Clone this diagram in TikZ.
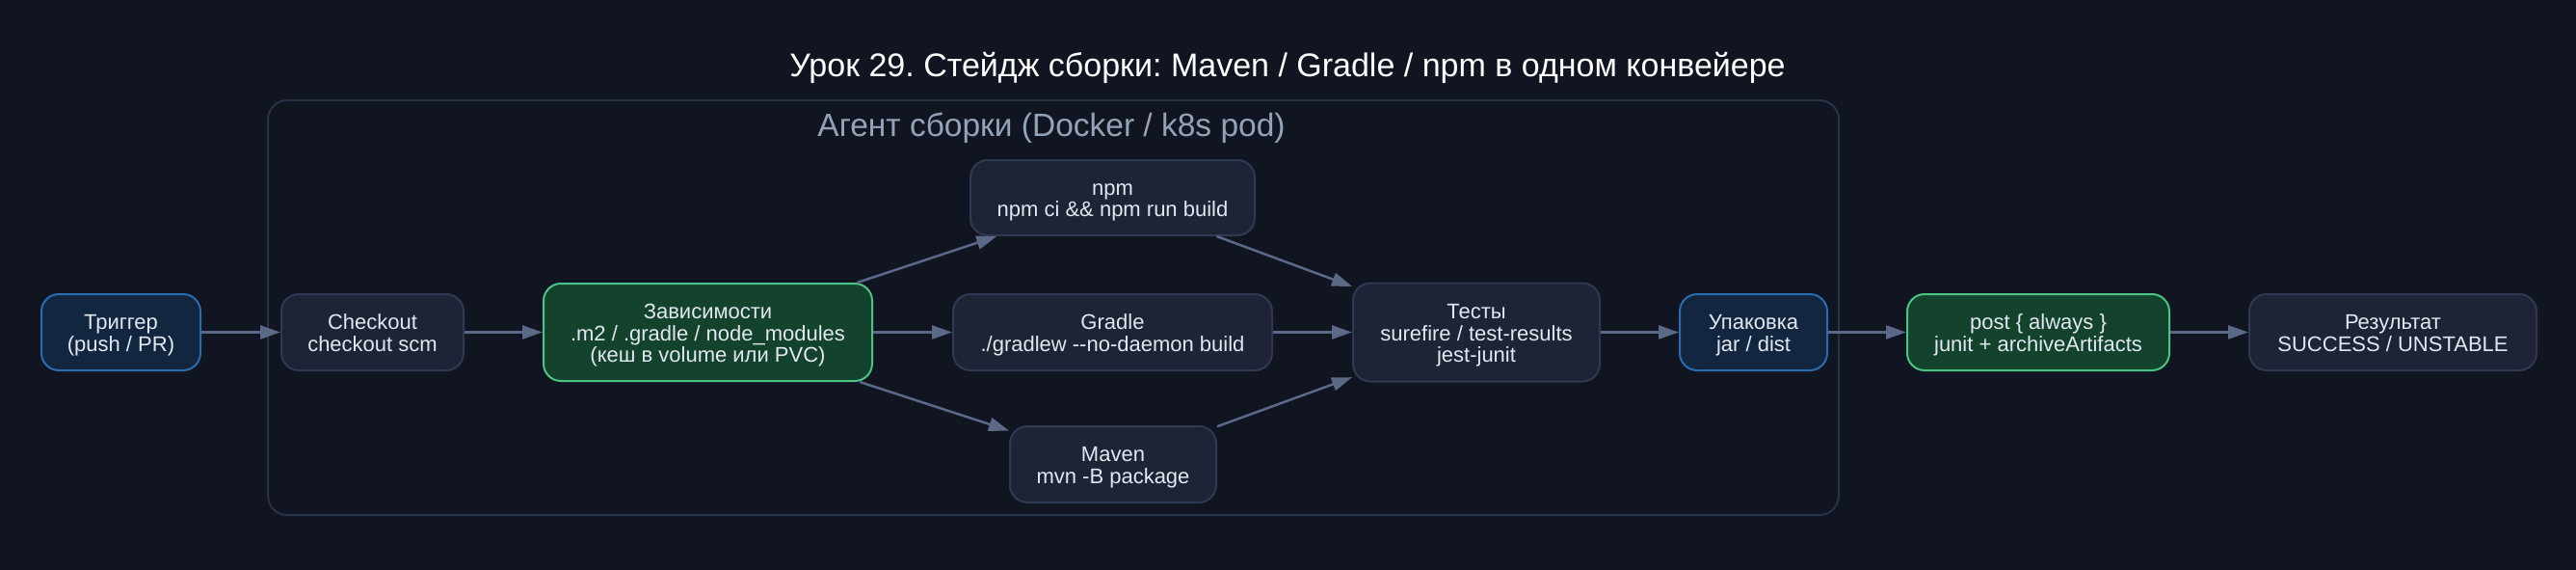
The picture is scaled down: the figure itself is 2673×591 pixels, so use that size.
\documentclass[tikz,border=0pt]{standalone}
\usepackage{fontspec}
\setmainfont{Liberation Sans}
\usetikzlibrary{arrows.meta}
\definecolor{bg}{HTML}{111521}
\definecolor{nfill}{HTML}{1E2336}
\definecolor{ndraw}{HTML}{2F3A52}
\definecolor{bfill}{HTML}{132640}
\definecolor{bdraw}{HTML}{2B6CB0}
\definecolor{gfill}{HTML}{14432D}
\definecolor{gdraw}{HTML}{4AC484}
\definecolor{edgec}{HTML}{5B6986}
\definecolor{clus}{HTML}{283248}
\definecolor{txt}{HTML}{E2E8F0}
\definecolor{clabel}{HTML}{94A3B8}
\newcommand\mlines[1]{\vbox{\lineskiplimit=-100pt\lineskip=0pt\baselineskip=22.5pt
  \halign{\hfil##\hfil\cr\rule{0pt}{22pt}#1\rule[-5pt]{0pt}{5pt}\cr}}}
\tikzset{
  box/.style={rounded corners=18pt, line width=2pt, draw=ndraw, fill=nfill,
    text=txt, inner sep=0pt,
    font=\fontsize{22}{22.5}\selectfont},
  bluebox/.style={box, draw=bdraw, fill=bfill},
  greenbox/.style={box, draw=gdraw, fill=gfill},
  conn/.style={draw=edgec, line width=2.5pt, -{Triangle[length=21pt,width=14pt]}}
}
\begin{document}
\frenchspacing
\begin{tikzpicture}[x=1pt,y=-1pt]
\fill[bg] (0,0) rectangle (2673,591);
\useasboundingbox (0,0) rectangle (2673,591);
\draw[clus, line width=2pt, rounded corners=20pt] (278,104) rectangle (1908,534);
\node[text=white, font=\fontsize{34}{38}\selectfont] (title) at (1336,70) {Урок 29. Стейдж сборки: Maven / Gradle / npm в одном конвейере};
\node[text=clabel, font=\fontsize{33.5}{37}\selectfont] (clab) at (1091,133) {Агент сборки (Docker / k8s pod)};

\node[bluebox, minimum width=165pt, minimum height=79pt] (trig) at (125.5,344.5) {\mlines{Триггер\cr(push / PR)}};
\node[box, minimum width=189pt, minimum height=79pt] (chk) at (386.5,344.5) {\mlines{Checkout\cr checkout scm}};
\node[greenbox, minimum width=341pt, minimum height=101pt] (deps) at (734.5,344.5) {\mlines{Зависимости\cr.m2 / .gradle / node\_modules\cr(кеш в volume или PVC)}};
\node[box, minimum width=295pt, minimum height=78pt] (npm) at (1154.5,205) {\mlines{npm\cr npm ci \&\& npm run build}};
\node[box, minimum width=331pt, minimum height=79pt] (gradle) at (1154.5,344.5) {\mlines{Gradle\cr./gradlew -{}-no-daemon build}};
\node[box, minimum width=214pt, minimum height=79pt] (maven) at (1155,481.5) {\mlines{Maven\cr mvn -B package}};
\node[box, minimum width=256pt, minimum height=102pt] (tests) at (1532,344.5) {\mlines{Тесты\cr surefire / test-results\cr jest-junit}};
\node[bluebox, minimum width=153pt, minimum height=79pt] (pack) at (1819.5,344.5) {\mlines{Упаковка\cr jar / dist}};
\node[greenbox, minimum width=272pt, minimum height=79pt] (post) at (2115,344.5) {\mlines{post \{ always \}\cr junit + archiveArtifacts}};
\node[box, minimum width=298pt, minimum height=79pt] (res) at (2483,344.5) {\mlines{Результат\cr SUCCESS / UNSTABLE}};

\draw[conn] (trig) -- (chk);
\draw[conn] (chk) -- (deps);
\draw[conn] (deps) -- (npm);
\draw[conn] (deps) -- (gradle);
\draw[conn] (deps) -- (maven);
\draw[conn] (npm) -- (tests);
\draw[conn] (gradle) -- (tests);
\draw[conn] (maven) -- (tests);
\draw[conn] (tests) -- (pack);
\draw[conn] (pack) -- (post);
\draw[conn] (post) -- (res);
\end{tikzpicture}
\end{document}
